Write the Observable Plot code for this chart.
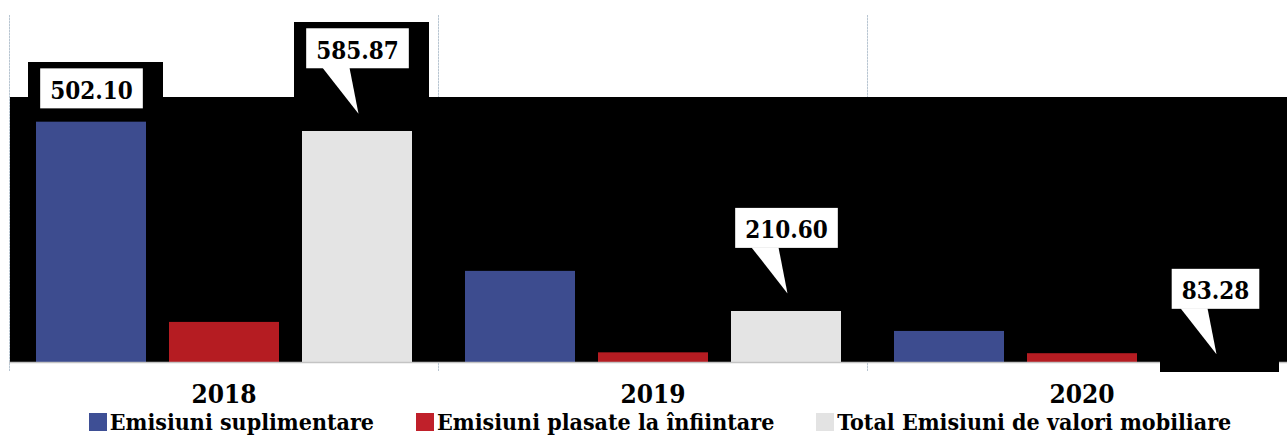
<!DOCTYPE html>
<html>
<head>
<meta charset="utf-8">
<script src="https://cdn.jsdelivr.net/npm/d3@7"></script>
<script src="https://cdn.jsdelivr.net/npm/@observablehq/plot@0.6"></script>
<style>
  html, body { margin: 0; padding: 0; background: #fff; overflow: hidden; }
  #wrap { width: 1287px; height: 436px; overflow: hidden; position: relative; }
  #legend { display: flex; justify-content: center; align-items: center; width: 1296px;
            font-weight: bold; font-size: 23px; line-height: 24px; color: #000; margin-top: 2px; padding-left: 24px; box-sizing: border-box; }
  #legend .item { display: flex; align-items: center; margin: 0 21px; white-space: nowrap; }
  #legend .sw { width: 18px; height: 18px; margin-right: 3px; flex: none; }
</style>
</head>
<body>
<div id="wrap"></div>
<script>
// ---- data ----
const years = ["2018", "2019", "2020"];
const seriesNames = ["Emisiuni suplimentare", "Emisiuni plasate la înfiintare", "Total Emisiuni de valori mobiliare"];
const suplimentare = [502.10, 190.40, 64.90];
const plasate = [83.77, 20.20, 18.38];
const total = [585.87, 210.60, 83.28];
const suplLabelYears = ["2018"];
const seriesColors = ["#3d4c8f", "#b51c22", "#e4e4e4"];
const legendColors = ["#3e4f95", "#c0202a", "#e3e3e3"];

const FONT = '"DejaVu Serif Condensed", "DejaVu Serif", "Liberation Serif", serif';

const rows = years.flatMap((year, i) => [
  {year, series: seriesNames[0], value: suplimentare[i]},
  {year, series: seriesNames[1], value: plasate[i]},
  {year, series: seriesNames[2], value: total[i]}
]);
const suplLabels = rows.filter(d => d.series === seriesNames[0] && suplLabelYears.includes(d.year));
const totalLabels = rows.filter(d => d.series === seriesNames[2]);
const fmt = d3.format(".2f");

const svg = Plot.plot({
  width: 1296,
  height: 408,
  marginTop: 15,
  marginBottom: 46,
  marginLeft: 8,
  marginRight: 0,
  style: {fontFamily: FONT, background: "transparent", maxWidth: "none", overflow: "visible", color: "#000"},
  fx: {domain: years, padding: 0, axis: null, label: null},
  x: {domain: seriesNames, paddingInner: 0.176, paddingOuter: 0.2, axis: null},
  y: {domain: [0, 725], axis: null},
  color: {domain: seriesNames, range: seriesColors},
  marks: [
    Plot.frame({anchor: "left", stroke: "#b9c6d2", strokeDasharray: "1.5 1.5", insetBottom: -8}),
    Plot.frame({fill: "black", stroke: "none", insetTop: 81, shapeRendering: "crispEdges"}),
    Plot.barY(rows, {fx: "year", x: "series", y: "value", fill: "series"}),
    Plot.ruleY([0], {stroke: "#c4c4c4", strokeWidth: 1.5}),
    Plot.axisFx({anchor: "bottom", tickSize: 0, tickPadding: 22, fontSize: 26, fontWeight: "bold", label: null}),
    Plot.text(suplLabels, {fx: "year", x: "series", y: "value", text: d => fmt(d.value), dy: -31, fontSize: 24, fontWeight: "bold", fill: "#000"}),
    Plot.text(totalLabels, {fx: "year", x: "series", y: "value", text: d => fmt(d.value), dy: -31, fontSize: 24, fontWeight: "bold", fill: "#000"})
  ]
});

const wrap = document.getElementById("wrap");
wrap.appendChild(svg);

// ---- callout boxes around the value labels ----
const ns = "http://www.w3.org/2000/svg";
const rootBox = svg.getBoundingClientRect();
const rootCTMinv = svg.getScreenCTM().inverse();
const overlay = document.createElementNS(ns, "g");
overlay.setAttribute("aria-label", "callouts");
svg.appendChild(overlay);
function el(name, attrs) {
  const e = document.createElementNS(ns, name);
  for (const k in attrs) e.setAttribute(k, attrs[k]);
  return e;
}
const textGroups = [...svg.querySelectorAll('g[aria-label="text"]')];
textGroups.forEach((grp, gi) => {
  const withPointer = gi === textGroups.length - 1;
  [...grp.querySelectorAll("text")].forEach(t => {
    const cs = getComputedStyle(t);
    const r = t.getBoundingClientRect();
    const cx = r.left + r.width / 2 - rootBox.left;
    const cy = r.top + r.height / 2 - rootBox.top;
    const bw = r.width + 20, bh = 40;
    const bx = cx - bw / 2, by = cy - 2 - bh / 2;
    const bottomExtra = withPointer ? 63 : 0;
    overlay.appendChild(el("rect", {x: bx - 12, y: by - 6, width: bw + 32, height: bh + 6 + bottomExtra, fill: "#000", "shape-rendering": "crispEdges"}));
    overlay.appendChild(el("rect", {x: bx, y: by, width: bw, height: bh, fill: "#fff"}));
    if (withPointer) {
      const b = by + bh - 0.5;
      overlay.appendChild(el("polygon", {points: `${cx - 35},${b} ${cx - 8},${b} ${cx + 1},${b + 46}`, fill: "#fff"}));
    }
    const m = rootCTMinv.multiply(t.parentNode.getScreenCTM());
    const g = el("g", {transform: `matrix(${m.a},${m.b},${m.c},${m.d},${m.e},${m.f})`});
    g.style.fontSize = cs.fontSize;
    g.style.fontWeight = cs.fontWeight;
    g.style.fontFamily = cs.fontFamily;
    g.setAttribute("text-anchor", cs.textAnchor || "middle");
    g.setAttribute("fill", "#000");
    g.appendChild(t);
    overlay.appendChild(g);
  });
});

// ---- legend ----
const legend = document.createElement("div");
legend.id = "legend";
legend.style.fontFamily = FONT;
seriesNames.forEach((name, i) => {
  const item = document.createElement("div");
  item.className = "item";
  const sw = document.createElement("span");
  sw.className = "sw";
  sw.style.background = legendColors[i];
  const label = document.createElement("span");
  label.textContent = name;
  item.appendChild(sw);
  item.appendChild(label);
  legend.appendChild(item);
});
wrap.appendChild(legend);
</script>
</body>
</html>
